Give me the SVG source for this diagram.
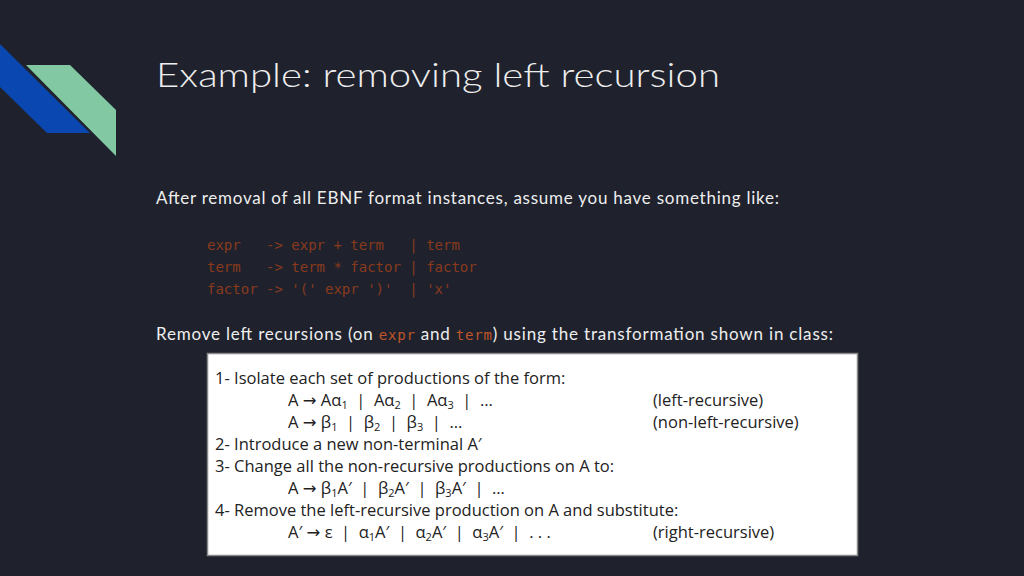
<svg xmlns="http://www.w3.org/2000/svg" width="1024" height="576" viewBox="0 0 1024 576">
<style>
.t{font-family:Lato,"Open Sans",sans-serif;fill:#eeeeee}
.c{font-family:"DejaVu Sans Mono","Liberation Mono",monospace;font-size:14px;fill:#8a3a1c}
.b{font-family:"Open Sans","Liberation Sans",sans-serif;font-size:16.5px;fill:#222;white-space:pre}
.a{font-family:"DejaVu Sans",sans-serif}
</style>
<rect width="1024" height="576" fill="#1f222d"/>
<g id="deco">
<polygon points="0,44 90,133 47,133 0,87" fill="#0a47b0"/>
<polygon points="26,65 70,65 116,110 116,156" fill="#82c9a3"/>
</g>
<text class="t" x="156" y="87" font-size="34" font-weight="300" font-family="'Open Sans',sans-serif" textLength="564" lengthAdjust="spacingAndGlyphs">Example: removing left recursion</text>
<text class="t" x="156" y="204" font-size="17" textLength="623">After removal of all EBNF format instances, assume you have something like:</text>
<text class="c" x="207" y="250" xml:space="preserve">expr   -&gt; expr + term   | term</text>
<text class="c" x="207" y="272" xml:space="preserve">term   -&gt; term * factor | factor</text>
<text class="c" x="207" y="294" xml:space="preserve">factor -&gt; '(' expr ')'  | 'x'</text>
<text class="t" x="156" y="340" font-size="17" textLength="677">Remove left recursions (on <tspan font-family="DejaVu Sans Mono,monospace" font-size="14" fill="#c0562a">expr</tspan> and <tspan font-family="DejaVu Sans Mono,monospace" font-size="14" fill="#c0562a">term</tspan>) using the transformation shown in class:</text>
<g id="box" xml:space="preserve">
<rect x="207.5" y="353.5" width="650" height="202" fill="#fff" stroke="#888" stroke-width="1.5"/>
<text class="b" x="215" y="384">1- Isolate each set of productions of the form:</text>
<text class="b" x="288" y="406">A <tspan class="a">→</tspan> Aα<tspan font-size="11" dy="3">1</tspan><tspan dy="-3">  |  Aα</tspan><tspan font-size="11" dy="3">2</tspan><tspan dy="-3">  |  Aα</tspan><tspan font-size="11" dy="3">3</tspan><tspan dy="-3">  |  …</tspan></text>
<text class="b" x="653" y="406">(left-recursive)</text>
<text class="b" x="288" y="428">A <tspan class="a">→</tspan> β<tspan font-size="11" dy="3">1</tspan><tspan dy="-3">  |  β</tspan><tspan font-size="11" dy="3">2</tspan><tspan dy="-3">  |  β</tspan><tspan font-size="11" dy="3">3</tspan><tspan dy="-3">  |  …</tspan></text>
<text class="b" x="653" y="428">(non-left-recursive)</text>
<text class="b" x="215" y="450">2- Introduce a new non-terminal A′</text>
<text class="b" x="215" y="472">3- Change all the non-recursive productions on A to:</text>
<text class="b" x="288" y="494">A <tspan class="a">→</tspan> β<tspan font-size="11" dy="3">1</tspan><tspan dy="-3">A′  |  β</tspan><tspan font-size="11" dy="3">2</tspan><tspan dy="-3">A′  |  β</tspan><tspan font-size="11" dy="3">3</tspan><tspan dy="-3">A′  |  …</tspan></text>
<text class="b" x="215" y="516">4- Remove the left-recursive production on A and substitute:</text>
<text class="b" x="288" y="538">A′ <tspan class="a">→</tspan> ε  |  α<tspan font-size="11" dy="3">1</tspan><tspan dy="-3">A′  |  α</tspan><tspan font-size="11" dy="3">2</tspan><tspan dy="-3">A′  |  α</tspan><tspan font-size="11" dy="3">3</tspan><tspan dy="-3">A′  |  . . .</tspan></text>
<text class="b" x="653" y="538">(right-recursive)</text>
</g>
</svg>
